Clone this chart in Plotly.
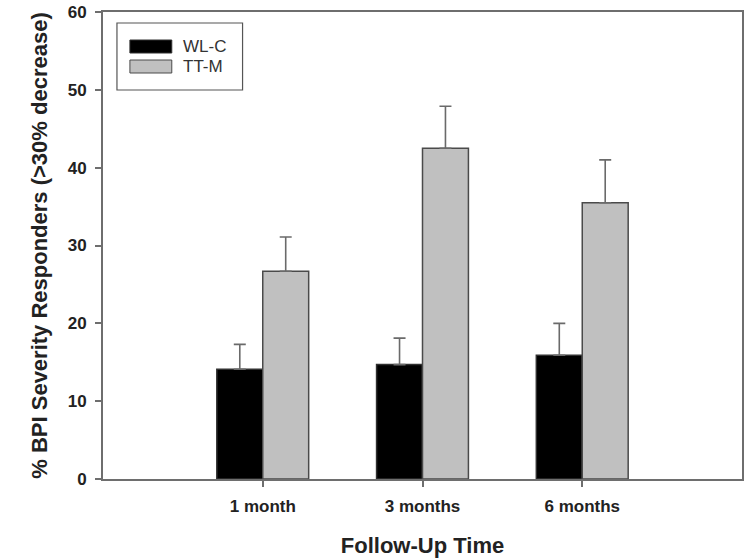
import plotly.graph_objects as go

categories = ["1 month", "3 months", "6 months"]
wlc_values = [14.1, 14.7, 15.9]
wlc_errors = [3.2, 3.4, 4.1]
ttm_values = [26.7, 42.5, 35.5]
ttm_errors = [4.4, 5.4, 5.5]
series_names = ["WL-C", "TT-M"]
y_ticks = [0, 10, 20, 30, 40, 50, 60]

W, H = 746, 560
L, R, T, B = 103, 2, 12, 81
PW, PH = W - L - R, H - T - B

def px(x):
    return (x - L) / PW

def py(y):
    return (H - B - y) / PH

FONT = "Arial, 'Liberation Sans', sans-serif"
AXIS_COL = "#6e6e6e"

fig = go.Figure()
fig.add_trace(go.Bar(
    x=categories, y=wlc_values, name=series_names[0],
    marker=dict(color="black", line=dict(color="#303030", width=1.5)),
    error_y=dict(type="data", symmetric=False, array=wlc_errors,
                 arrayminus=[0] * len(wlc_errors),
                 color="#6a6a6a", thickness=1.6, width=6),
    showlegend=False,
))
fig.add_trace(go.Bar(
    x=categories, y=ttm_values, name=series_names[1],
    marker=dict(color="#c0c0c0", line=dict(color="#4a4a4a", width=1.5)),
    error_y=dict(type="data", symmetric=False, array=ttm_errors,
                 arrayminus=[0] * len(ttm_errors),
                 color="#6a6a6a", thickness=1.6, width=6),
    showlegend=False,
))

# custom legend (large swatches as in the original)
shapes = [
    dict(type="rect", xref="paper", yref="paper",
         x0=px(117), x1=px(243), y0=py(90), y1=py(23),
         line=dict(color="#555555", width=1.2), fillcolor="white", layer="above"),
    dict(type="rect", xref="paper", yref="paper",
         x0=px(130), x1=px(172), y0=py(53), y1=py(40),
         line=dict(color="#303030", width=1), fillcolor="black", layer="above"),
    dict(type="rect", xref="paper", yref="paper",
         x0=px(130), x1=px(172), y0=py(73), y1=py(60),
         line=dict(color="#4a4a4a", width=1), fillcolor="#c0c0c0", layer="above"),
]
annotations = [
    dict(text=series_names[0], xref="paper", yref="paper", x=px(181), y=py(46.5),
         xanchor="left", yanchor="middle", showarrow=False,
         font=dict(family=FONT, size=17, color="#333333")),
    dict(text=series_names[1], xref="paper", yref="paper", x=px(181), y=py(66.5),
         xanchor="left", yanchor="middle", showarrow=False,
         font=dict(family=FONT, size=17, color="#333333")),
]

fig.update_layout(
    width=W, height=H,
    margin=dict(l=L, r=R, t=T, b=B, pad=0),
    paper_bgcolor="white", plot_bgcolor="white",
    barmode="group", bargap=0.425, bargroupgap=0,
    shapes=shapes, annotations=annotations,
    font=dict(family=FONT, color="#222222"),
)
fig.update_xaxes(
    type="category", range=[-1, 3],
    showline=True, linecolor=AXIS_COL, linewidth=2, mirror=True,
    ticks="outside", ticklen=6, tickwidth=1.5, tickcolor=AXIS_COL,
    tickfont=dict(family=FONT, size=17, color="#222222", weight="bold"),
    ticklabelstandoff=5,
    showgrid=False, zeroline=False,
    title=dict(text="<b>Follow-Up Time</b>", standoff=22,
               font=dict(family=FONT, size=22, color="#222222")),
)
fig.update_yaxes(
    range=[0, 60], tickvals=y_ticks,
    showline=True, linecolor=AXIS_COL, linewidth=2, mirror=True,
    ticks="outside", ticklen=6, tickwidth=1.5, tickcolor=AXIS_COL,
    tickfont=dict(family=FONT, size=17, color="#222222", weight="bold"),
    ticklabelstandoff=5,
    showgrid=False, zeroline=False,
    title=dict(text="<b>% BPI Severity Responders (>30% decrease)</b>", standoff=14,
               font=dict(family=FONT, size=22, color="#222222")),
)

fig.write_html("out.html")
